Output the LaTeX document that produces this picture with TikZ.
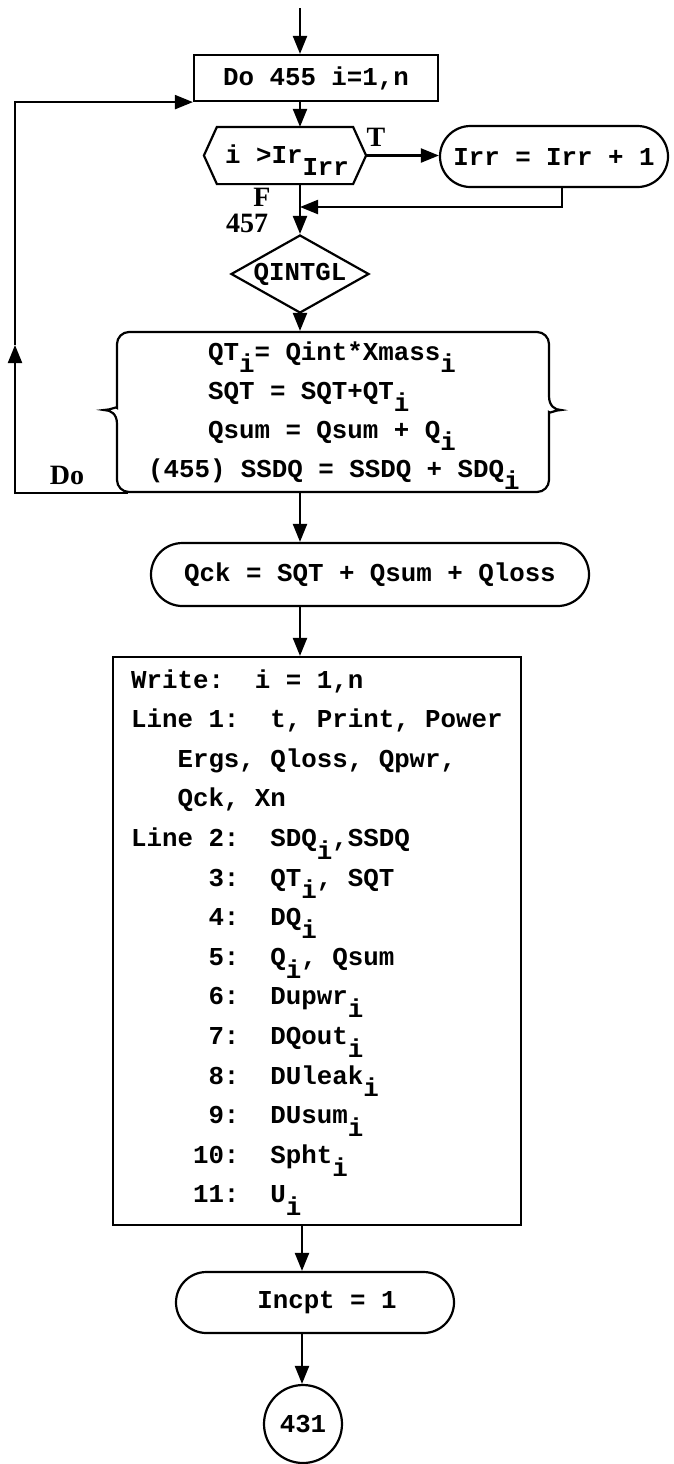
\documentclass[tikz,border=0pt]{standalone}
\usepackage{fontspec}
\setmonofont{Liberation Mono}
\newfontfamily\lblfont{Liberation Serif}
\usetikzlibrary{shapes.geometric,shapes.misc,arrows.meta}
\newcommand\sbx[1]{\raisebox{-0.5em}{#1}}
\begin{document}
\begin{tikzpicture}[x=0.5pt,y=-0.5pt, line width=1.1pt,
  arr/.style={-{Triangle[length=9pt,width=7pt]}},
  txt/.style={font=\ttfamily\bfseries\fontsize{12.9pt}{15pt}\selectfont, inner sep=0pt},
  lbl/.style={font=\lblfont\bfseries\fontsize{14pt}{16pt}\selectfont, inner sep=0pt},
  boxs/.style={draw, inner sep=0pt, txt},
  pill/.style={draw, rounded rectangle, inner sep=0pt, txt},
  ln/.style={txt, anchor=base west}]
\useasboundingbox (0,0) rectangle (674,1464);

% top
\coordinate (top) at (300,8);
\coordinate (join) at (300,207);
\node[boxs, minimum width=122pt, minimum height=23pt] (do) at (316,78) {Do 455 i=1,n};
\draw[arr] (top) -- (top |- do.north);

% hexagon decision
\node[minimum width=80pt, minimum height=27.5pt, inner sep=0pt] (hex) at (285,155.5) {};
\draw ([xshift=6.5pt]hex.north west) -- ([xshift=-6.5pt]hex.north east) -- (hex.east)
  -- ([xshift=-6.5pt]hex.south east) -- ([xshift=6.5pt]hex.south west) -- (hex.west) -- cycle;
\node[ln] (hext) at (224,163) {i >Ir\sbx{Irr}};
\draw[arr] (join |- do.south) -- (join |- hex.north);

\node[pill, minimum width=114pt, minimum height=30.5pt] (irr) at (554,156.5) {Irr = Irr + 1};
\draw[arr] (hex.east) -- (hex.east -| irr.west);
\node[lbl] (tl) at (376,137) {T};
\draw[arr] ([xshift=4pt]irr.south) |- (join);
\node[lbl] (fl) at (262,197) {F};
\node[lbl] (n457) at (247,223) {457};

% QINTGL
\node[draw, diamond, txt, minimum width=69pt, minimum height=39pt, aspect=1.77] (diam) at (300,274) {QINTGL};
\draw[arr] (join |- hex.south) -- (diam.north);

% calculation block with braces
\node[minimum width=216pt, minimum height=80pt, inner sep=0pt] (calc) at (333,412) {};
\draw (117,424) [rounded corners=6pt] -- (117,492) -- (549,492) -- (549,424) [sharp corners]
  .. controls (549,414) and (555,410) .. (561,410)
  .. controls (555,410) and (549,406) .. (549,396)
  [rounded corners=6pt] -- (549,332) -- (117,332) -- (117,396) [sharp corners]
  .. controls (117,406) and (111,410) .. (104,410)
  .. controls (111,410) and (117,414) .. (117,424) -- cycle;
\draw[arr] (diam.south) -- (diam.south |- calc.north);
\node[ln] (c1) at (207,360) {QT\sbx{i}= Qint*Xmass\sbx{i}};
\node[ln] (c2) at (207,399) {SQT = SQT+QT\sbx{i}};
\node[ln] (c3) at (207,438) {Qsum = Qsum + Q\sbx{i}};
\node[ln] (c4) at (147,477) {(455) SSDQ = SSDQ + SDQ\sbx{i}};

% loop back
\coordinate (lp) at (15,345);
\draw[arr] ([xshift=6pt]calc.south west) -| (lp);
\draw[arr] (lp) |- (do.south west);
\node[lbl] (dol) at (67,475) {Do};

% Qck
\node[pill, minimum width=219pt, minimum height=31.5pt] (qck) at (370,574.5) {Qck = SQT + Qsum + Qloss};
\draw[arr] (join |- calc.south) -- (join |- qck.north);

% Write block
\node[draw, minimum width=204pt, minimum height=284pt, inner sep=0pt] (wr) at (317,941) {};
\draw[arr] (join |- qck.south) -- (join |- wr.north);
\node[ln] (w1) at (130,688) {Write:~~i = 1,n};
\node[ln] (w2) at (130,727.6) {Line 1:~~t, Print, Power};
\node[ln] (w3) at (130,767.2) {~~~Ergs, Qloss, Qpwr,};
\node[ln] (w4) at (130,806.8) {~~~Qck, Xn};
\node[ln] (w5) at (130,846.4) {Line 2:~~SDQ\sbx{i},SSDQ};
\node[ln] (w6) at (130,886) {~~~~~3:~~QT\sbx{i}, SQT};
\node[ln] (w7) at (130,925.6) {~~~~~4:~~DQ\sbx{i}};
\node[ln] (w8) at (130,965.2) {~~~~~5:~~Q\sbx{i}, Qsum};
\node[ln] (w9) at (130,1004.8) {~~~~~6:~~Dupwr\sbx{i}};
\node[ln] (w10) at (130,1044.4) {~~~~~7:~~DQout\sbx{i}};
\node[ln] (w11) at (130,1084) {~~~~~8:~~DUleak\sbx{i}};
\node[ln] (w12) at (130,1123.6) {~~~~~9:~~DUsum\sbx{i}};
\node[ln] (w13) at (130,1163.2) {~~~~10:~~Spht\sbx{i}};
\node[ln] (w14) at (130,1202.8) {~~~~11:~~U\sbx{i}};

% Incpt and connector
\coordinate (ax) at (302,0);
\node[pill, minimum width=139pt, minimum height=30.5pt] (inc) at (315,1302.5) {\hspace*{12pt}Incpt = 1};
\draw[arr] (ax |- wr.south) -- (ax |- inc.north);
\node[draw, circle, txt, minimum size=39pt] (c431) at (303,1424) {431};
\draw[arr] (ax |- inc.south) -- (ax |- c431.north);
\end{tikzpicture}
\end{document}
